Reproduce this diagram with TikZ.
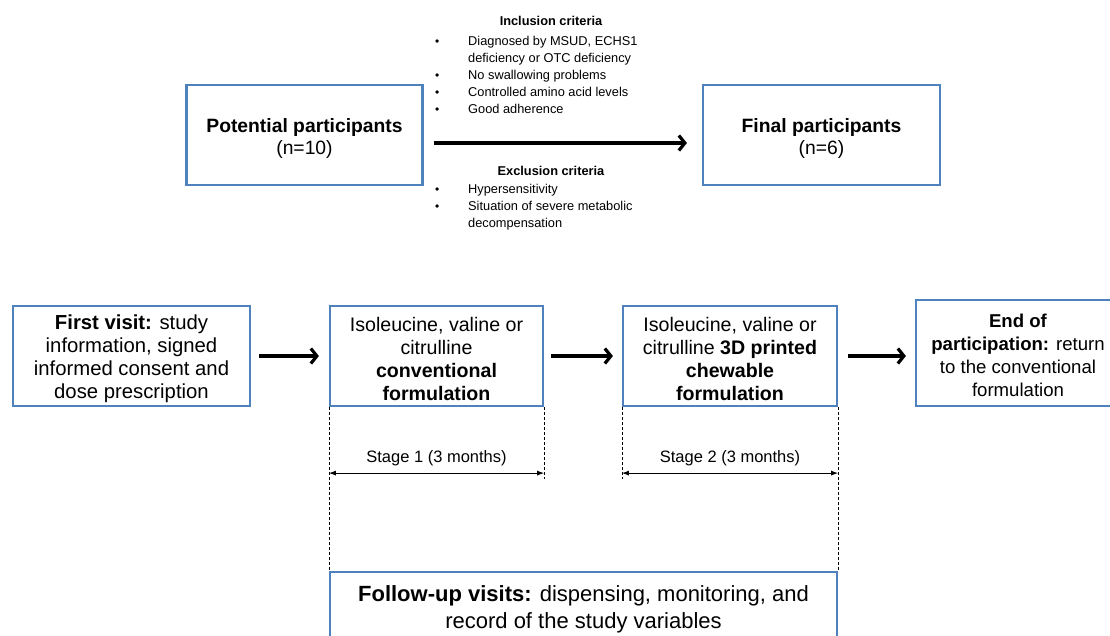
\documentclass[tikz,border=0pt]{standalone}
\usepackage{fontspec}
\setmainfont{Liberation Sans}
\usetikzlibrary{arrows.meta}
\definecolor{boxblue}{RGB}{79,129,189}
\newcommand{\blt}{{\fontsize{12}{12}\selectfont •}}
\begin{document}
\begin{tikzpicture}[x=1pt,y=-1pt,
  box/.style={draw=boxblue, line width=2.2pt, rectangle, inner sep=0pt, align=center,
    font=\fontsize{19.6}{23}\selectfont},
  bigarrow/.style={line width=3.2pt, -{Straight Barb[length=6pt,width=15pt]}},
  dimline/.style={line width=0.8pt, {Latex[length=7pt,width=5pt]}-{Latex[length=7pt,width=5pt]}},
  guide/.style={line width=0.7pt, dash pattern=on 3pt off 2pt},
  crit/.style={inner sep=0pt, font=\fontsize{12.8}{17}\selectfont},
  stagelbl/.style={font=\fontsize{16.5}{19}\selectfont, inner sep=0pt}]
\clip (0,0) rectangle (1110,635);
\fill[white] (0,0) rectangle (1110,635);

% top row
\node[box, font=\fontsize{19.3}{22}\selectfont, minimum width=236pt, minimum height=100pt] (pot) at (304.5,135)
  {\rule{0pt}{20pt}\textbf{Potential participants}\\(n=10)};
\node[box, font=\fontsize{19.3}{22}\selectfont, minimum width=237pt, minimum height=100pt] (fin) at (821.5,135)
  {\rule{0pt}{20pt}\textbf{Final participants}\\(n=6)};
\draw[bigarrow] ([xshift=10pt,yshift=-8pt]pot.east) -- ([xshift=-15pt,yshift=-8pt]fin.west);

\node[crit, anchor=base] (inct) at (551,25) {\textbf{Inclusion criteria}};
\node[crit, anchor=base west] (incl) at (435,45) {%
  \begin{tabular}[t]{@{}p{33pt}@{}l@{}}
  \blt & Diagnosed by MSUD, ECHS1\\
   & deficiency or OTC deficiency\\
  \blt & No swallowing problems\\
  \blt & Controlled amino acid levels\\
  \blt & Good adherence
  \end{tabular}};
\node[crit, anchor=base] (exct) at (551,175) {\textbf{Exclusion criteria}};
\node[crit, anchor=base west] (excl) at (435,193) {%
  \begin{tabular}[t]{@{}p{33pt}@{}l@{}}
  \blt & Hypersensitivity\\
  \blt & Situation of severe metabolic\\
   & decompensation
  \end{tabular}};

% bottom row
\node[box, font=\fontsize{20.3}{23}\selectfont, minimum width=237pt, minimum height=100pt] (first) at (131.5,356)
  {\rule{0pt}{20pt}\textbf{First visit:} study\\information, signed\\informed consent and\\dose prescription};
\node[box, minimum width=213pt, minimum height=100pt] (conv) at (436.5,356)
  {\rule{0pt}{20pt}Isoleucine, valine or\\citrulline\\\textbf{conventional}\\\textbf{formulation}};
\node[box, minimum width=214pt, minimum height=100pt] (print) at (730,356)
  {\rule{0pt}{20pt}Isoleucine, valine or\\citrulline \textbf{3D printed}\\\textbf{chewable}\\\textbf{formulation}};
\node[box, font=\fontsize{18.6}{23}\selectfont, minimum width=204pt, minimum height=106pt] (endp) at (1018,353)
  {\rule{0pt}{18pt}\textbf{End of}\\\textbf{participation:} return\\to the conventional\\formulation};
\node[box, minimum width=507pt, minimum height=70pt, font=\fontsize{22}{27}\selectfont] (follow) at (583.5,607)
  {\rule{0pt}{20pt}\textbf{Follow-up visits:} dispensing, monitoring, and\\record of the study variables};

\draw[bigarrow] ([xshift=8pt]first.east) -- ([xshift=-10pt]conv.west);
\draw[bigarrow] ([xshift=7pt]conv.east) -- ([xshift=-9pt]print.west);
\draw[bigarrow] ([xshift=10pt]print.east) -- ([xshift=-9pt]print.east -| endp.west);

% guides
\coordinate (s1a) at ([yshift=-66pt]conv.south west);
\coordinate (s1b) at ([yshift=-66pt]conv.south east);
\coordinate (s2a) at ([yshift=-66pt]print.south west);
\coordinate (s2b) at ([yshift=-66pt]print.south east);
\draw[guide] (conv.south west) -- (follow.north west);
\draw[guide] (conv.south east) -- ([yshift=-6pt]s1b);
\draw[guide] (print.south west) -- ([yshift=-6pt]s2a);
\draw[guide] (print.south east) -- (follow.north east);
\draw[dimline] (s1a) -- node[stagelbl, above=7pt] (st1) {Stage 1 (3 months)} (s1b);
\draw[dimline] (s2a) -- node[stagelbl, above=7pt] (st2) {Stage 2 (3 months)} (s2b);
\end{tikzpicture}
\end{document}
